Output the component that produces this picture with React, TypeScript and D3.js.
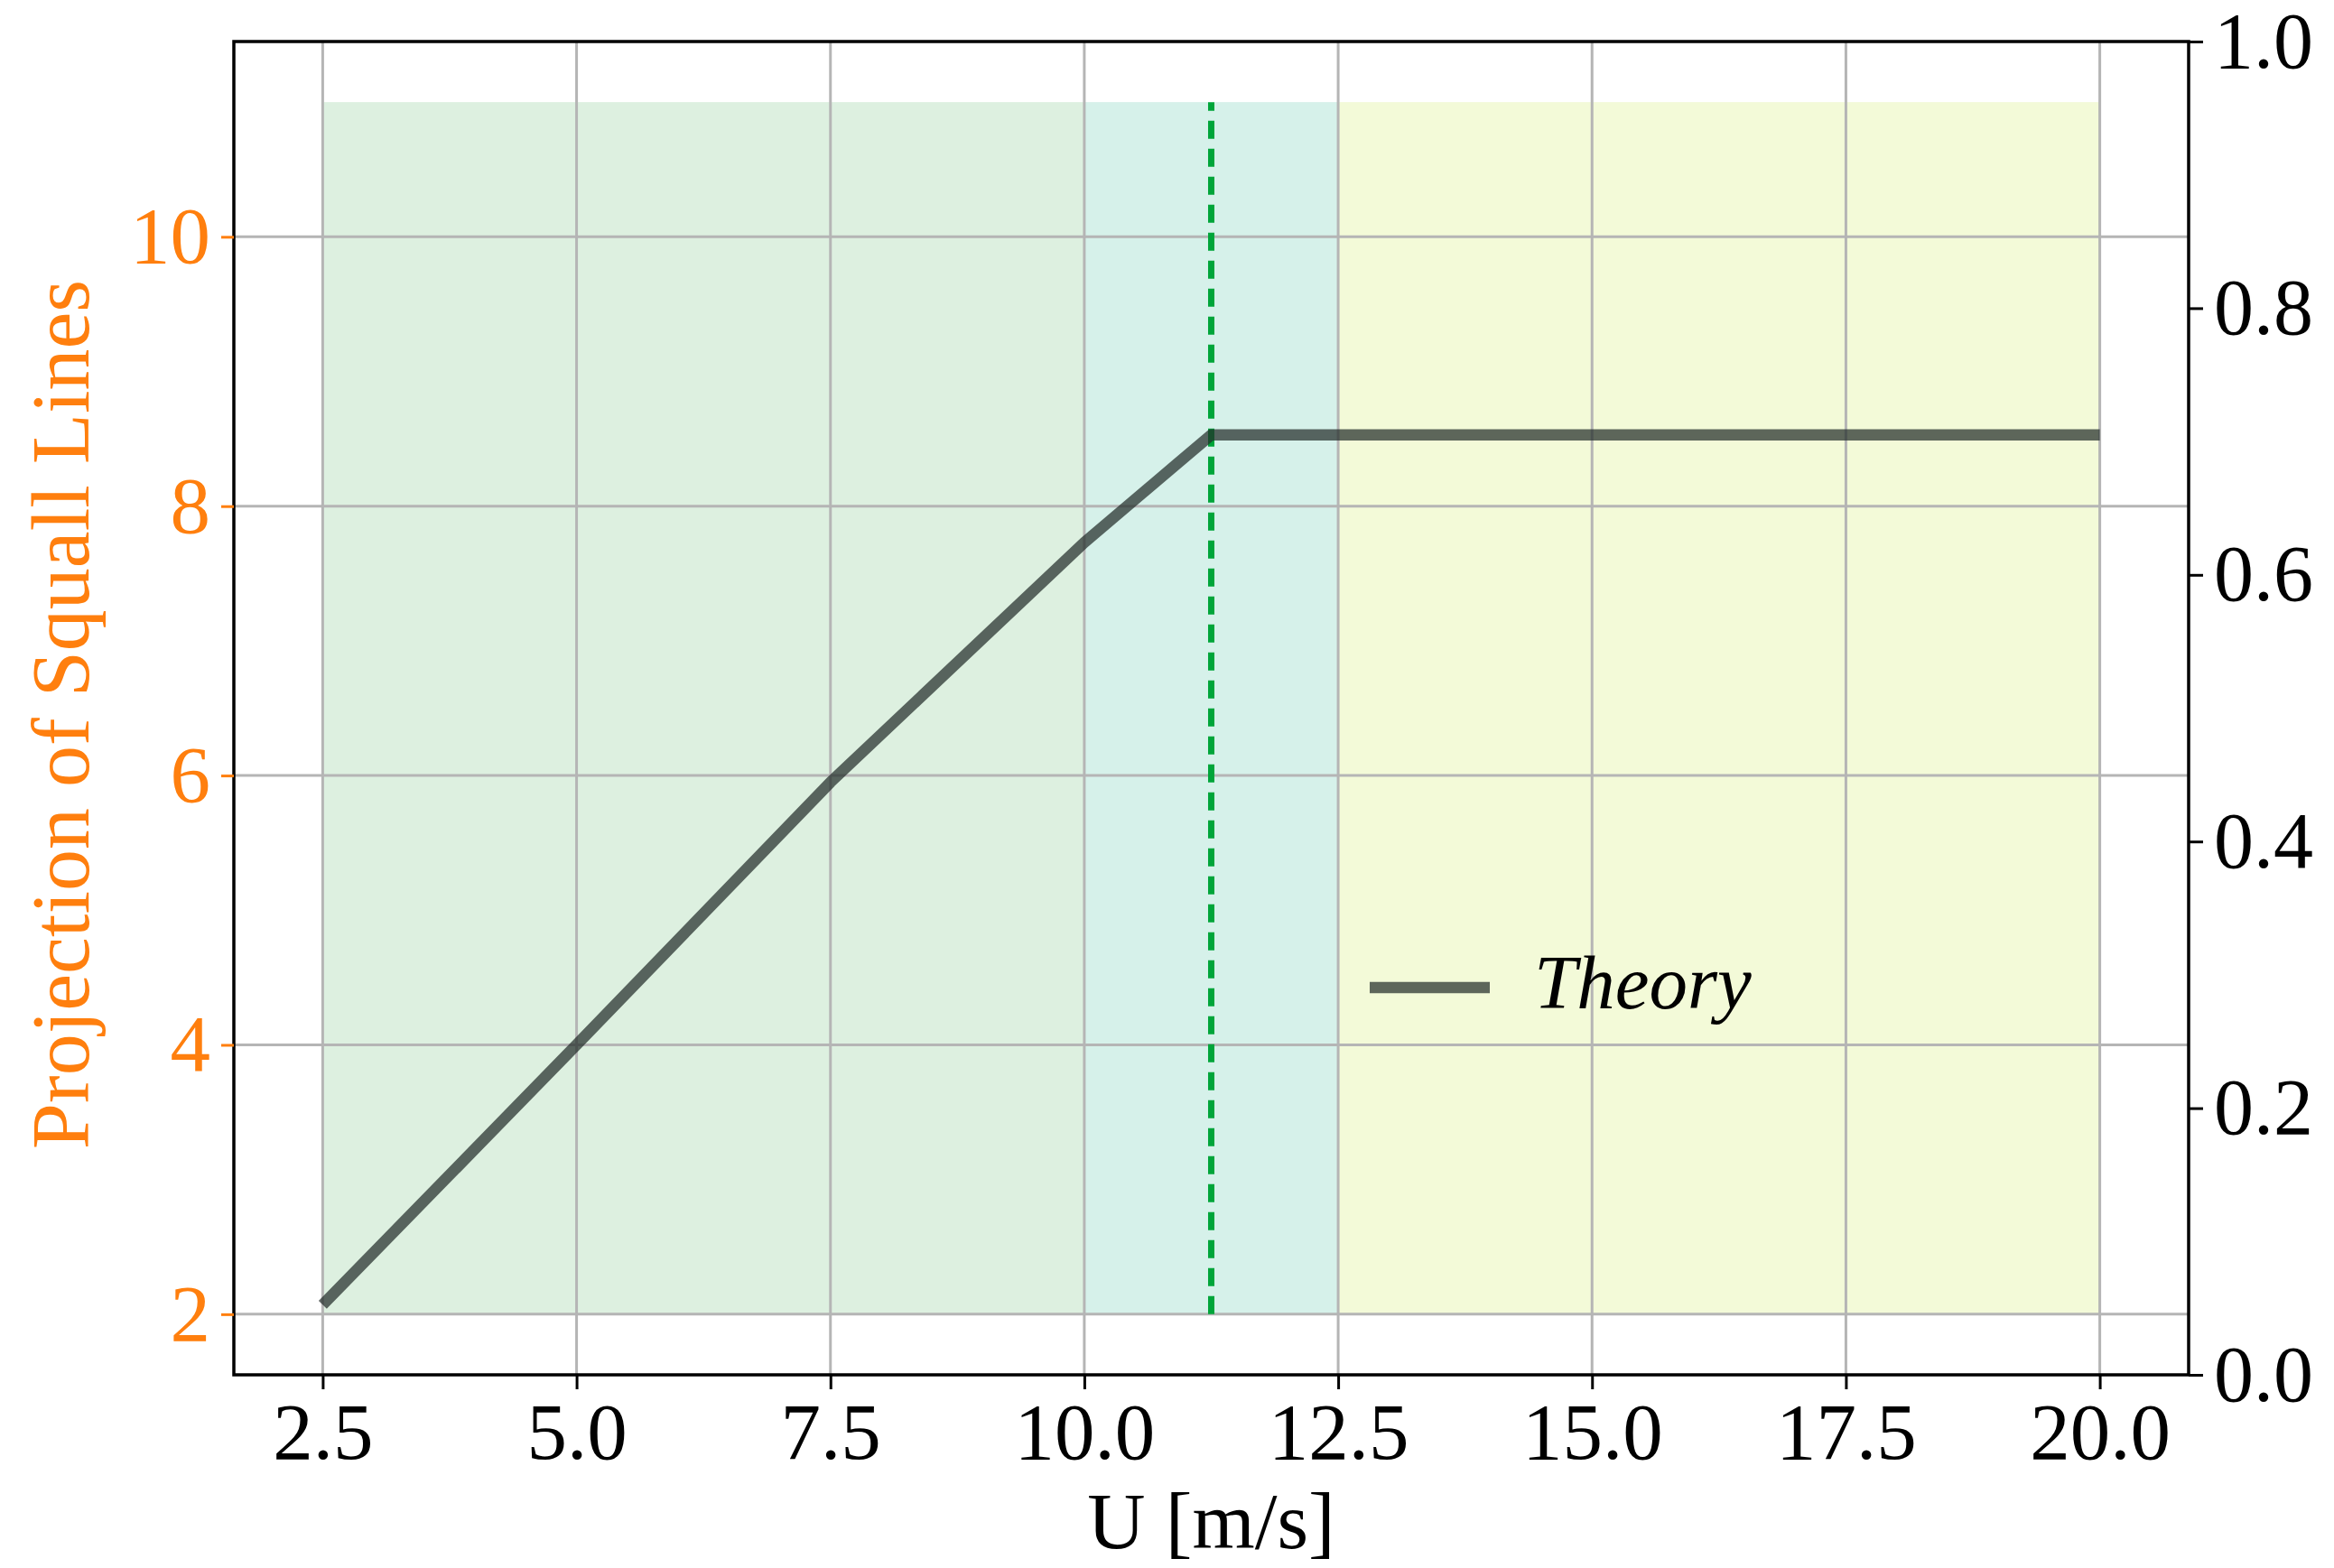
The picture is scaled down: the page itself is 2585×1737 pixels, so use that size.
import { useEffect, useRef } from 'react'
import * as d3 from 'd3'

// Theory curve: projection of squall lines vs wind speed U
const U_VALUES = [2.5, 5.0, 7.5, 10.0, 11.25, 20.0]
const PROJECTION = [2.07, 4.0, 5.95, 7.73, 8.53, 8.53]

// shaded regimes along U
const REGIONS = [
  { from: 2.5, to: 10.0, color: '#ddf0e0' },
  { from: 10.0, to: 12.5, color: '#d6f1ea' },
  { from: 12.5, to: 20.0, color: '#f3fad8' },
]
const REGION_Y = [2, 11]
const CRITICAL_U = 11.25

const X_TICKS = [2.5, 5.0, 7.5, 10.0, 12.5, 15.0, 17.5, 20.0]
const Y_TICKS = [2, 4, 6, 8, 10]
const Y2_TICKS = [0.0, 0.2, 0.4, 0.6, 0.8, 1.0]

const W = 2585
const H = 1737
const SERIF = '"Liberation Serif", "Times New Roman", serif'
const ORANGE = '#ff7f0e'

export default function App() {
  const svgRef = useRef<SVGSVGElement>(null)

  useEffect(() => {
    document.body.style.margin = '0'
    const svg = d3.select(svgRef.current)
    svg.selectAll('*').remove()

    const m = { left: 259, right: W - 2424, top: 46, bottom: H - 1523 }
    const x = d3.scaleLinear().domain([1.625, 20.875]).range([m.left, W - m.right])
    const y = d3.scaleLinear().domain([1.55, 11.45]).range([H - m.bottom, m.top])
    const y2 = d3.scaleLinear().domain([0, 1]).range([H - m.bottom, m.top])

    // fondos por régimen
    svg.append('g').selectAll('rect')
      .data(REGIONS)
      .join('rect')
      .attr('x', d => x(d.from))
      .attr('width', d => x(d.to) - x(d.from))
      .attr('y', y(REGION_Y[1]))
      .attr('height', y(REGION_Y[0]) - y(REGION_Y[1]))
      .attr('fill', d => d.color)

    // grid
    const grid = svg.append('g').attr('stroke', '#b5b5b5').attr('stroke-width', 3)
    grid.selectAll('line.gx')
      .data(X_TICKS)
      .join('line')
      .attr('class', 'gx')
      .attr('x1', d => x(d)).attr('x2', d => x(d))
      .attr('y1', y.range()[0]).attr('y2', y.range()[1])
    grid.selectAll('line.gy')
      .data(Y_TICKS)
      .join('line')
      .attr('class', 'gy')
      .attr('y1', d => y(d)).attr('y2', d => y(d))
      .attr('x1', x.range()[0]).attr('x2', x.range()[1])

    // línea crítica
    svg.append('line')
      .attr('x1', x(CRITICAL_U)).attr('x2', x(CRITICAL_U))
      .attr('y1', y(REGION_Y[0])).attr('y2', y(REGION_Y[1]))
      .attr('stroke', '#00a53a')
      .attr('stroke-width', 7)
      .attr('stroke-dasharray', '20 11')

    // curva teórica
    const line = d3.line<number>()
      .x((d, i) => x(U_VALUES[i]))
      .y(d => y(d))
    svg.append('path')
      .datum(PROJECTION)
      .attr('d', line)
      .attr('fill', 'none')
      .attr('stroke', '#222c29')
      .attr('stroke-opacity', 0.72)
      .attr('stroke-width', 12.5)
      .attr('stroke-linejoin', 'round')

    // frame
    svg.append('rect')
      .attr('x', x.range()[0]).attr('y', y.range()[1])
      .attr('width', x.range()[1] - x.range()[0])
      .attr('height', y.range()[0] - y.range()[1])
      .attr('fill', 'none')
      .attr('stroke', '#000')
      .attr('stroke-width', 3.5)

    // ejes
    const gx = svg.append('g')
      .attr('transform', `translate(0,${y.range()[0]})`)
      .call(d3.axisBottom(x).tickValues(X_TICKS).tickFormat(d3.format('.1f')).tickSize(16).tickPadding(14))
    gx.select('.domain').remove()
    gx.selectAll('line').attr('stroke', '#000').attr('stroke-width', 3)
    gx.selectAll('text').attr('font-family', SERIF).attr('font-size', 89).attr('fill', '#000')

    const gy = svg.append('g')
      .attr('transform', `translate(${x.range()[0]},0)`)
      .call(d3.axisLeft(y).tickValues(Y_TICKS).tickFormat(d3.format('d')).tickSize(14).tickPadding(12))
    gy.select('.domain').remove()
    gy.selectAll('line').attr('stroke', ORANGE).attr('stroke-width', 3)
    gy.selectAll('text').attr('font-family', SERIF).attr('font-size', 89).attr('fill', ORANGE)

    const gy2 = svg.append('g')
      .attr('transform', `translate(${x.range()[1]},0)`)
      .call(d3.axisRight(y2).tickValues(Y2_TICKS).tickFormat(d3.format('.1f')).tickSize(16).tickPadding(12))
    gy2.select('.domain').remove()
    gy2.selectAll('line').attr('stroke', '#000').attr('stroke-width', 3)
    gy2.selectAll('text').attr('font-family', SERIF).attr('font-size', 88).attr('fill', '#000')

    // títulos de ejes
    svg.append('text')
      .attr('x', (x.range()[0] + x.range()[1]) / 2)
      .attr('y', 1715)
      .attr('text-anchor', 'middle')
      .attr('font-family', SERIF)
      .attr('font-size', 89)
      .text('U [m/s]')

    svg.append('text')
      .attr('transform', `translate(98,${(y.range()[0] + y.range()[1]) / 2 + 7}) rotate(-90)`)
      .attr('text-anchor', 'middle')
      .attr('font-family', SERIF)
      .attr('font-size', 92)
      .attr('fill', ORANGE)
      .text('Projection of Squall Lines')

    // leyenda
    const lg = svg.append('g').attr('transform', 'translate(1517,1094)')
    lg.append('line')
      .attr('x1', 0).attr('x2', 133)
      .attr('stroke', '#222c29').attr('stroke-opacity', 0.72).attr('stroke-width', 12.5)
    lg.append('text')
      .attr('x', 182).attr('y', 23)
      .attr('font-family', SERIF)
      .attr('font-style', 'italic')
      .attr('font-size', 85)
      .text('Theory')
  }, [])

  return <svg ref={svgRef} width={W} height={H} style={{ display: 'block', background: '#fff' }} />
}
